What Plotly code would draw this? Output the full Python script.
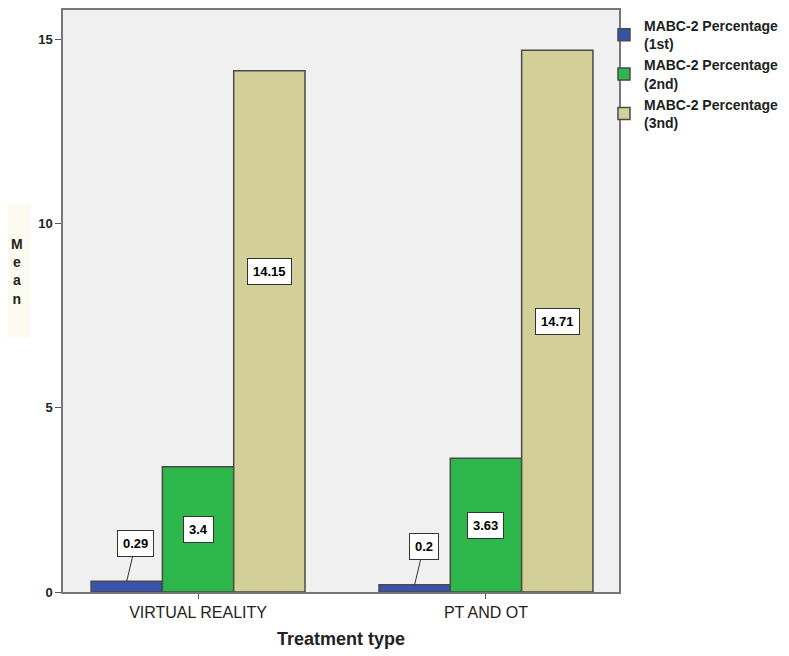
import plotly.graph_objects as go

categories = ["VIRTUAL REALITY", "PT AND OT"]
series_names = ["MABC-2 Percentage<br>(1st)", "MABC-2 Percentage<br>(2nd)", "MABC-2 Percentage<br>(3nd)"]
first = [0.29, 0.2]
second = [3.4, 3.63]
third = [14.15, 14.71]
colors = ["#3a53a8", "#2eb84c", "#d3cf98"]
# label vertical positions (data units)
label_y = [[None, None], [1.7, 1.8], [8.7, 7.35]]

values = [first, second, third]
bargap = 0.257
groupw = 1 - bargap
FONT = "Liberation Sans, Arial"

fig = go.Figure()
for i, (name, vals, col) in enumerate(zip(series_names, values, colors)):
    fig.add_trace(go.Bar(
        x=list(range(len(categories))), y=vals, name=name, legendgroup=f"g{i}",
        marker=dict(color=col, line=dict(color="#4a4a4a", width=1.5)),
    ))

annotations = []
for i, vals in enumerate(values):
    off = (i - 1) * groupw / 3
    for j, v in enumerate(vals):
        txt = f"{v:g}"
        common = dict(xref="x", yref="y", text=f"<b>{txt}</b>",
                      bgcolor="white", bordercolor="#333", borderwidth=1, borderpad=5,
                      font=dict(family=FONT, size=13, color="black"))
        if i == 0:
            annotations.append(dict(
                x=j + off, y=v, showarrow=True, arrowhead=0, arrowwidth=1, arrowcolor="#333",
                ax=9, ay=-38, standoff=0, **common))
        else:
            annotations.append(dict(x=j + off, y=label_y[i][j], showarrow=False, **common))

annotations.append(dict(
    x=-0.083, y=0.551, xref="paper", yref="paper", xanchor="center", yanchor="middle",
    text="<b>M<br>e<br>a<br>n</b>", showarrow=False, align="center",
    font=dict(family=FONT, size=14, color="#222"),
))

fig.update_layout(
    width=781, height=648,
    margin=dict(l=55, r=170, t=0, b=64),
    paper_bgcolor="white", plot_bgcolor="#f0f0f0",
    barmode="group", bargap=bargap, bargroupgap=0,
    font=dict(family=FONT, size=12, color="#222"),
    showlegend=True,
    legend=dict(x=0.973, xanchor="left", y=1.0, yanchor="top",
                font=dict(family=FONT, size=14, color="#222", weight="bold"),
                tracegroupgap=6, itemwidth=30, bgcolor="rgba(0,0,0,0)",
                traceorder="normal"),
    annotations=annotations,
    shapes=[dict(type="rect", xref="paper", yref="paper",
                 x0=-0.099, x1=-0.059, y0=0.437, y1=0.666,
                 fillcolor="#fcfbf0", line=dict(width=0), layer="below")],
    xaxis=dict(
        tickmode="array", tickvals=list(range(len(categories))), ticktext=categories,
        range=[-0.469, 1.462], showline=True, linecolor="#777", linewidth=1.5, mirror=True,
        ticks="outside", ticklen=5, tickcolor="#555", showgrid=False,
        tickfont=dict(size=16, color="#222"),
        title=dict(text="<b>Treatment type</b>", font=dict(size=18, color="#222"), standoff=12),
    ),
    yaxis=dict(
        range=[0, 15.8], tickvals=[0, 5, 10, 15], ticktext=["<b>0</b>", "<b>5</b>", "<b>10</b>", "<b>15</b>"],
        showline=True, linecolor="#777", linewidth=1.5, mirror=True,
        ticks="outside", ticklen=6, tickcolor="#555", showgrid=False, zeroline=False,
        tickfont=dict(size=13, color="#222"),
    ),
)

fig.write_html("out.html")
